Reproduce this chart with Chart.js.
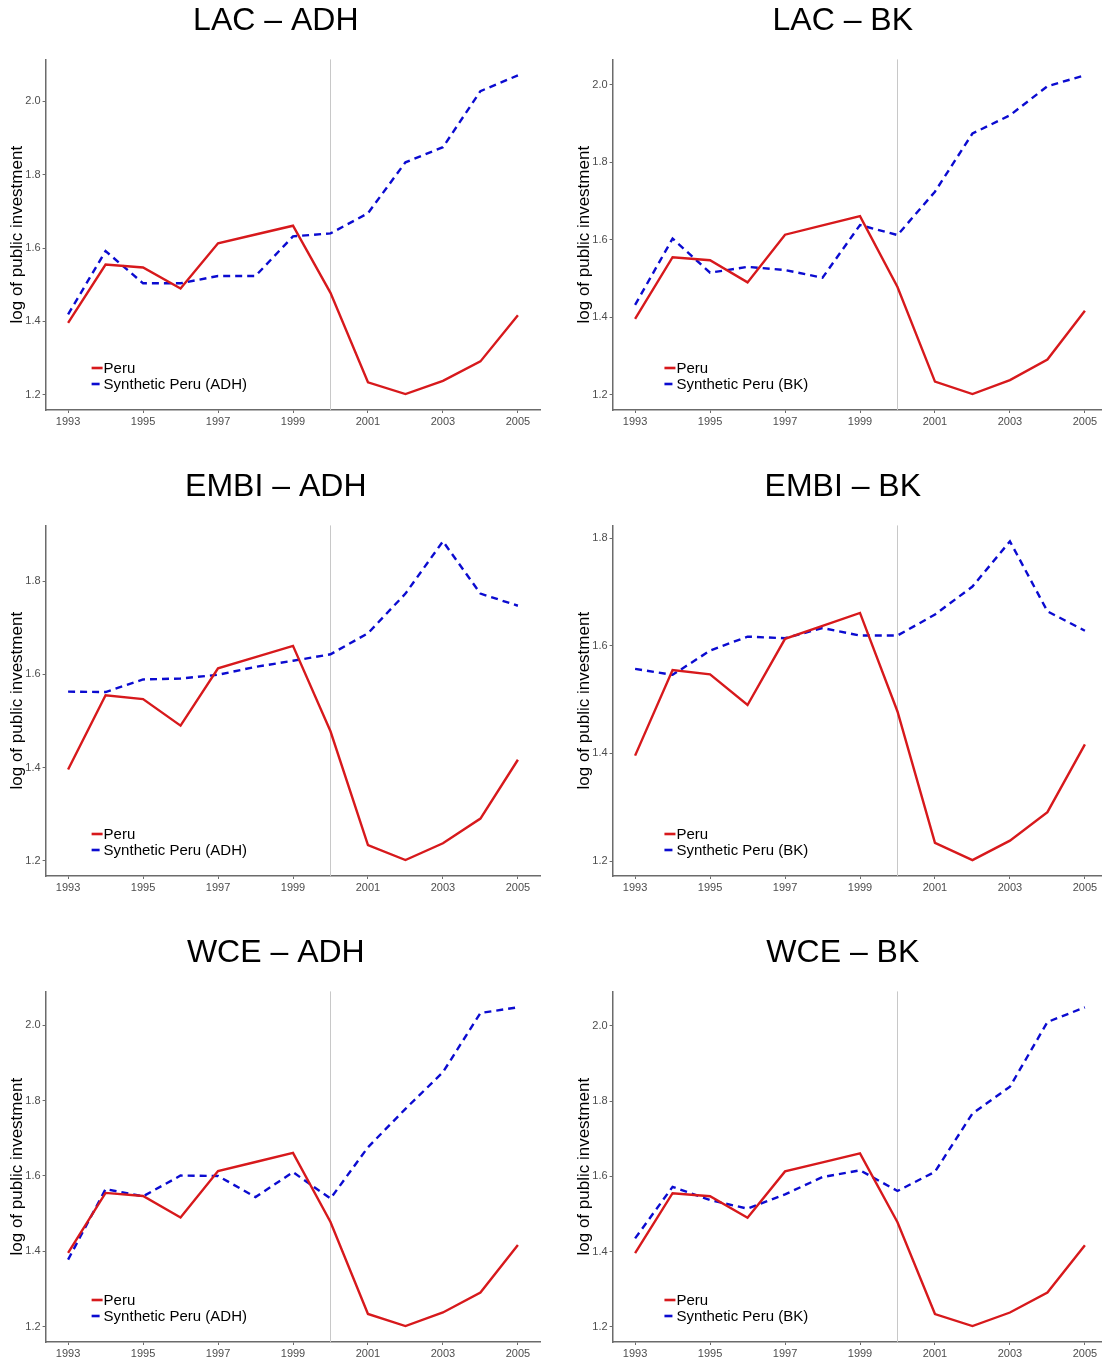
<!DOCTYPE html>
<html>
<head>
<meta charset="utf-8">
<script src="https://cdn.jsdelivr.net/npm/chart.js@4.4.1/dist/chart.umd.min.js"></script>
<style>
  html, body { margin: 0; padding: 0; background: #fff; }
  body { width: 1102px; height: 1364px; overflow: hidden; position: relative; }
  .panel { position: absolute; width: 551px; height: 432px; }
  canvas { display: block; }
</style>
</head>
<body>
<div class="panel" style="left:0px;top:0px"><canvas id="c1" width="551" height="432"></canvas></div>
<div class="panel" style="left:567px;top:0px"><canvas id="c2" width="551" height="432"></canvas></div>
<div class="panel" style="left:0px;top:466px"><canvas id="c3" width="551" height="432"></canvas></div>
<div class="panel" style="left:567px;top:466px"><canvas id="c4" width="551" height="432"></canvas></div>
<div class="panel" style="left:0px;top:932px"><canvas id="c5" width="551" height="432"></canvas></div>
<div class="panel" style="left:567px;top:932px"><canvas id="c6" width="551" height="432"></canvas></div>
<script>
// ---- data ----
const years = [1993, 1994, 1995, 1996, 1997, 1998, 1999, 2000, 2001, 2002, 2003, 2004, 2005];
const xTickYears = [1993, 1995, 1997, 1999, 2001, 2003, 2005];
const yTickValues = [1.2, 1.4, 1.6, 1.8, 2.0];
const treatmentYear = 2000;

const peru     = [1.396, 1.555, 1.547, 1.490, 1.613, 1.637, 1.661, 1.478, 1.234, 1.202, 1.238, 1.291, 1.417];
const lacADH   = [1.419, 1.592, 1.504, 1.504, 1.524, 1.524, 1.632, 1.640, 1.695, 1.834, 1.875, 2.028, 2.071];
const lacBK    = [1.432, 1.603, 1.515, 1.530, 1.522, 1.502, 1.638, 1.612, 1.724, 1.874, 1.921, 1.996, 2.024];
const embiADH  = [1.563, 1.562, 1.589, 1.591, 1.599, 1.616, 1.629, 1.643, 1.688, 1.773, 1.885, 1.773, 1.747];
const embiBK   = [1.557, 1.546, 1.591, 1.617, 1.614, 1.633, 1.619, 1.619, 1.658, 1.710, 1.794, 1.664, 1.628];
const wceADH   = [1.378, 1.565, 1.546, 1.601, 1.600, 1.544, 1.610, 1.540, 1.676, 1.778, 1.875, 2.032, 2.047];
const wceBK    = [1.435, 1.572, 1.537, 1.514, 1.552, 1.598, 1.616, 1.561, 1.612, 1.767, 1.838, 2.010, 2.049];

const panelTitles = ["LAC \u2013 ADH", "LAC \u2013 BK", "EMBI \u2013 ADH", "EMBI \u2013 BK", "WCE \u2013 ADH", "WCE \u2013 BK"];
const synthSeries = [lacADH, lacBK, embiADH, embiBK, wceADH, wceBK];
const synthLabels = ["Synthetic Peru (ADH)", "Synthetic Peru (BK)", "Synthetic Peru (ADH)", "Synthetic Peru (BK)", "Synthetic Peru (ADH)", "Synthetic Peru (BK)"];
const yAxisTitle = "log of public investment";
const peruLabel = "Peru";

// ---- styling ----
const FONT = "'Liberation Sans', Arial, Helvetica, sans-serif";
const RED = "#d7191c";
const BLUE = "#0b0bd0";
const AXIS = "#6b6b6b";
const TICKTXT = "#4d4d4d";

const vlinePlugin = {
  id: 'vline',
  beforeDatasetsDraw(chart) {
    const {ctx, chartArea, scales} = chart;
    const x = scales.x.getPixelForValue(treatmentYear);
    ctx.save();
    ctx.strokeStyle = '#c8c8c8';
    ctx.lineWidth = 1;
    ctx.beginPath();
    ctx.moveTo(x, chartArea.top);
    ctx.lineTo(x, chartArea.bottom);
    ctx.stroke();
    ctx.restore();
  }
};

const legendPlugin = {
  id: 'inlegend',
  afterDatasetsDraw(chart) {
    const {ctx, chartArea} = chart;
    const ds = chart.data.datasets;
    ctx.save();
    ctx.font = "15px " + FONT;
    const keyW = 11;
    let maxW = 0;
    ds.forEach(d => { maxW = Math.max(maxW, ctx.measureText(d.label).width); });
    const boxW = keyW + 1 + maxW;
    const cx = chartArea.left + 0.25 * (chartArea.right - chartArea.left);
    const left = cx - boxW / 2;
    const rows = [chartArea.bottom - 42, chartArea.bottom - 26];
    ds.forEach((d, i) => {
      const y = rows[i];
      ctx.strokeStyle = d.borderColor;
      ctx.lineWidth = 2.6;
      ctx.setLineDash(d.borderDash && d.borderDash.length ? [8, 4] : []);
      ctx.beginPath();
      ctx.moveTo(left, y);
      ctx.lineTo(left + keyW, y);
      ctx.stroke();
      ctx.setLineDash([]);
      ctx.fillStyle = '#000';
      ctx.textBaseline = 'middle';
      ctx.textAlign = 'left';
      ctx.fillText(d.label, left + keyW + 1, y + 0.5);
    });
    ctx.restore();
  }
};

function makeChart(idx) {
  const synth = synthSeries[idx];
  const all = peru.concat(synth);
  const lo = Math.min(...all), hi = Math.max(...all);
  const pad = (hi - lo) * 0.05;
  const yMin = lo - pad, yMax = hi + pad;
  const xPad = (years[years.length - 1] - years[0]) * 0.05;

  const ctx = document.getElementById('c' + (idx + 1));
  new Chart(ctx, {
    type: 'line',
    data: {
      datasets: [
        {
          label: peruLabel,
          data: years.map((y, i) => ({x: y, y: peru[i]})),
          borderColor: RED,
          borderWidth: 2.4,
          pointRadius: 0,
          tension: 0,
          fill: false
        },
        {
          label: synthLabels[idx],
          data: years.map((y, i) => ({x: y, y: synth[i]})),
          borderColor: BLUE,
          borderWidth: 2.4,
          borderDash: [7, 5],
          pointRadius: 0,
          tension: 0,
          fill: false
        }
      ]
    },
    options: {
      responsive: false,
      animation: false,
      events: [],
      layout: { padding: { left: 11.2, right: 10.6, top: 0, bottom: 0 } },
      plugins: {
        legend: { display: false },
        tooltip: { enabled: false },
        title: {
          display: true,
          text: panelTitles[idx],
          color: '#000',
          font: { family: FONT, size: 32, weight: 'normal' },
          padding: { top: 2, bottom: 19 }
        }
      },
      scales: {
        x: {
          type: 'linear',
          min: years[0] - xPad,
          max: years[years.length - 1] + xPad,
          afterBuildTicks(scale) { scale.ticks = xTickYears.map(v => ({value: v})); },
          afterFit(scale) { scale.height = 22; },
          ticks: {
            color: TICKTXT,
            font: { family: FONT, size: 11 },
            padding: 2,
            maxRotation: 0,
            autoSkip: false,
            callback: v => String(v)
          },
          grid: { drawOnChartArea: false, drawTicks: true, tickLength: 3, color: AXIS, lineWidth: 1 },
          border: { display: true, color: AXIS, width: 1.5 }
        },
        y: {
          type: 'linear',
          min: yMin,
          max: yMax,
          afterBuildTicks(scale) { scale.ticks = yTickValues.filter(v => v >= yMin && v <= yMax).map(v => ({value: v})); },
          afterFit(scale) { scale.width = 34.4; },
          ticks: {
            color: TICKTXT,
            font: { family: FONT, size: 11 },
            padding: 2,
            autoSkip: false,
            callback: v => Number(v).toFixed(1)
          },
          grid: { drawOnChartArea: false, drawTicks: true, tickLength: 3, color: AXIS, lineWidth: 1 },
          border: { display: true, color: AXIS, width: 1.5 },
          title: {
            display: true,
            text: yAxisTitle,
            color: '#000',
            font: { family: FONT, size: 17 },
            padding: { top: -4.5, bottom: 0 }
          }
        }
      }
    },
    plugins: [vlinePlugin, legendPlugin]
  });
}

for (let i = 0; i < 6; i++) makeChart(i);
</script>
</body>
</html>
